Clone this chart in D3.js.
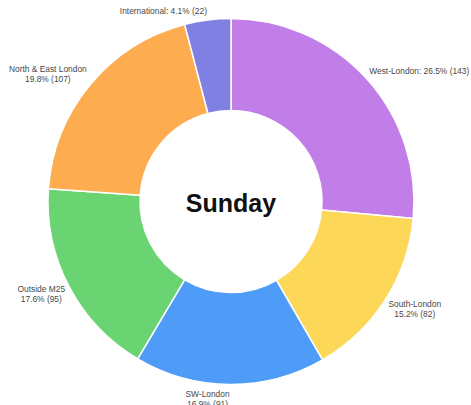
<!DOCTYPE html>
<html>
<head>
<meta charset="utf-8">
<script src="https://cdn.jsdelivr.net/npm/d3@7"></script>
<style>
    body { margin: 0; background: #fff; }
    svg { display: block; }
</style>
</head>
<body>
<div class="chart"></div>
<script>
var categories = ['West-London', 'South-London', 'SW-London', 'Outside M25', 'North & East London', 'International'];
var counts = [143, 82, 91, 95, 107, 22];
var colours = ['#c17ee8', '#fdd758', '#4e9cf8', '#6bd472', '#fdac4f', '#7f80e2'];
var singleLine = [true, false, false, false, false, true];
var centreTitle = 'Sunday';

(function () {
    var options = {
        width: 471,
        height: 405,
        cx: 231,
        cy: 201.5,
        outer: 183,
        inner: 91,
        labelOffset: 4,
        fontSize: 8.4,
        lineHeight: 10.2
    };

    var total = d3.sum(counts);
    var data = categories.map(function (name, i) {
        return { name: name, count: counts[i], colour: colours[i], single: singleLine[i] };
    });

    var svg = d3.select('.chart')
        .append('svg')
        .attr('width', options.width)
        .attr('height', options.height);

    var pie = d3.pie().sort(null).value(function (d) { return d.count; });
    var arc = d3.arc().innerRadius(options.inner).outerRadius(options.outer);
    var arcs = pie(data);

    var g = svg.append('g')
        .attr('transform', 'translate(' + options.cx + ',' + options.cy + ')');

    g.selectAll('path')
        .data(arcs)
        .enter()
        .append('path')
        .attr('d', arc)
        .attr('fill', function (d) { return d.data.colour; })
        .attr('stroke', '#fff')
        .attr('stroke-width', 1.5);

    g.append('text')
        .attr('text-anchor', 'middle')
        .attr('dy', '0.35em')
        .attr('y', 2)
        .style('font-family', '"Liberation Sans", Arial, sans-serif')
        .style('font-weight', 'bold')
        .style('font-size', '25px')
        .attr('fill', '#111')
        .text(centreTitle);

    // labels hang off the outer edge: left side right-aligned, right side left-aligned
    arcs.forEach(function (d) {
        var pct = (d.data.count / total * 100).toFixed(1) + '% (' + d.data.count + ')';
        var lines = d.data.single ? [d.data.name + ': ' + pct] : [d.data.name, pct];

        var label = svg.append('text')
            .attr('text-anchor', 'middle')
            .style('font-family', '"Liberation Sans", Arial, sans-serif')
            .style('font-size', options.fontSize + 'px')
            .attr('fill', '#484848');

        lines.forEach(function (line, i) {
            label.append('tspan')
                .attr('x', 0)
                .attr('y', i * options.lineHeight)
                .text(line);
        });

        var mid = (d.startAngle + d.endAngle) / 2;
        var vx = Math.sin(mid), vy = -Math.cos(mid);
        var px = options.cx + options.outer * vx;
        var py = options.cy + options.outer * vy;

        var bb = label.node().getBBox();
        var h = lines.length * options.lineHeight;
        var vs = 1 / Math.max(Math.abs(vx), Math.abs(vy));
        var edge = px + options.labelOffset * vx;
        var ly = py + h / 2 * vy * vs + options.labelOffset * vy;

        var shiftX = vx < 0 ? edge - (bb.x + bb.width) : edge - bb.x;
        var shiftY = ly - (bb.y + bb.height / 2);
        label.attr('transform', 'translate(' + shiftX + ',' + shiftY + ')');
    });
})();
</script>
</body>
</html>
